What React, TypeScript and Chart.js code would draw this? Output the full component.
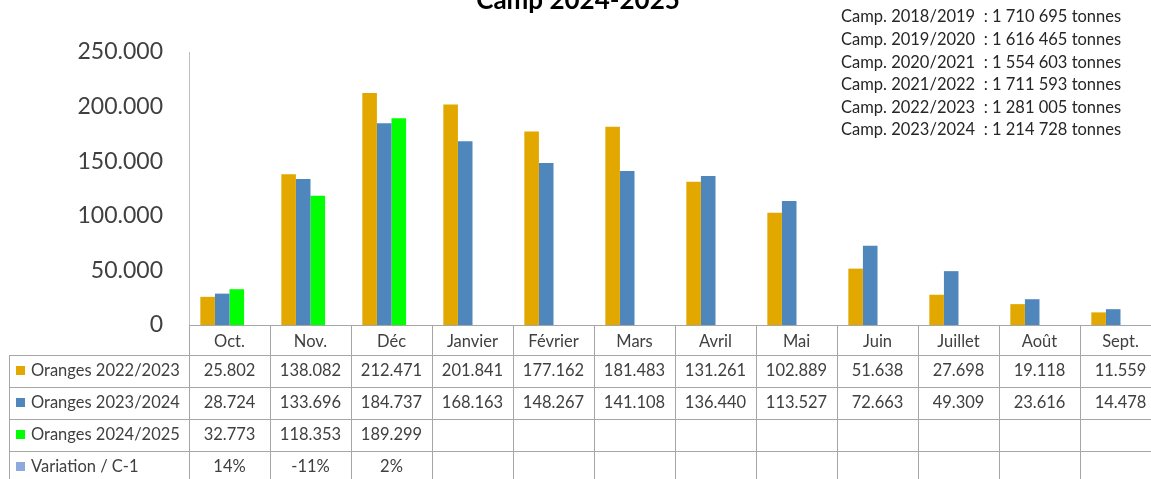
import React, { useEffect, useRef } from "react";
import { Chart, registerables } from "chart.js";

Chart.register(...registerables);

const months = ["Oct.", "Nov.", "Déc", "Janvier", "Février", "Mars", "Avril", "Mai", "Juin", "Juillet", "Août", "Sept."];
const oranges2223 = [25802, 138082, 212471, 201841, 177162, 181483, 131261, 102889, 51638, 27698, 19118, 11559];
const oranges2324 = [28724, 133696, 184737, 168163, 148267, 141108, 136440, 113527, 72663, 49309, 23616, 14478];
const oranges2425 = [32773, 118353, 189299];
const variation = [0.14, -0.11, 0.02];
const yTicks = [0, 50000, 100000, 150000, 200000, 250000];
const campaigns = ["2018/2019", "2019/2020", "2020/2021", "2021/2022", "2022/2023", "2023/2024"];
const campaignTotals = ["1 710 695", "1 616 465", "1 554 603", "1 711 593", "1 281 005", "1 214 728"];
const title = "Camp 2024-2025";

const FONT = "Lato, 'Noto Sans', sans-serif";
const TEXT = "#404040";
const GRID = "#A6A6A6";

const fmt = (v: number) => (v === 0 ? "0" : Math.round(v).toString().replace(/\B(?=(\d{3})+(?!\d))/g, "."));
const pct = (v: number) => `${Math.round(v * 100)}%`;

const series = [
  { label: "Oranges 2022/2023", data: oranges2223, color: "#E2A800", text: (v: number) => fmt(v) },
  { label: "Oranges 2023/2024", data: oranges2324, color: "#4F87BD", text: (v: number) => fmt(v) },
  { label: "Oranges 2024/2025", data: oranges2425, color: "#00FF00", text: (v: number) => fmt(v) },
  { label: "Variation / C-1", data: variation, color: "#8EA9DB", text: (v: number) => pct(v) },
];

const tablePlugin = {
  id: "dataTable",
  afterDraw(chart: any) {
    const ctx = chart.ctx as CanvasRenderingContext2D;
    const area = chart.chartArea;
    const n = months.length;
    const cw = (area.right - area.left) / n;
    const top = area.bottom;
    const headerH = 30;
    const rowH = 32;
    const tableLeft = 9;
    const bottom = top + headerH + rowH * series.length;
    ctx.save();
    ctx.strokeStyle = GRID;
    ctx.lineWidth = 1;
    ctx.beginPath();
    for (let i = 0; i <= n; i++) {
      const x = Math.round(area.left + i * cw) + 0.5;
      ctx.moveTo(x, top);
      ctx.lineTo(x, bottom);
    }
    ctx.moveTo(tableLeft + 0.5, top + headerH);
    ctx.lineTo(tableLeft + 0.5, bottom);
    for (let k = 0; k <= series.length; k++) {
      const y = Math.round(top + headerH + k * rowH) + 0.5;
      ctx.moveTo(tableLeft, y);
      ctx.lineTo(area.right, y);
    }
    ctx.stroke();

    ctx.font = `16.5px ${FONT}`;
    ctx.textBaseline = "middle";
    series.forEach((s, r) => {
      const cy = top + headerH + r * rowH + rowH / 2;
      ctx.fillStyle = s.color;
      ctx.fillRect(tableLeft + 7, cy - 5, 9, 9);
      ctx.fillStyle = TEXT;
      ctx.textAlign = "left";
      ctx.fillText(s.label, tableLeft + 22, cy);
      ctx.textAlign = "center";
      s.data.forEach((v, i) => {
        const cx = area.left + (i + 0.5) * cw;
        ctx.fillText(s.text(v), cx, cy);
      });
    });

    // campaign totals
    ctx.fillStyle = "#262626";
    ctx.textAlign = "left";
    ctx.font = `16.5px ${FONT}`;
    campaigns.forEach((c, i) => {
      ctx.fillText(`Camp. ${c}  : ${campaignTotals[i]} tonnes`, 841, 17 + i * 22.6);
    });

    // title (cropped at top)
    ctx.fillStyle = "#000000";
    ctx.font = `bold 26px ${FONT}`;
    ctx.textAlign = "center";
    ctx.textBaseline = "alphabetic";
    ctx.fillText(title, 578, 9);
    ctx.restore();
  },
};

export default function App() {
  const ref = useRef<HTMLCanvasElement>(null);
  useEffect(() => {
    if (!ref.current) return;
    const chart = new Chart(ref.current, {
      type: "bar",
      data: {
        labels: months,
        datasets: series.map((s) => ({
          label: s.label,
          data: s.data,
          backgroundColor: s.color,
          borderWidth: 0,
          categoryPercentage: 0.72,
          barPercentage: 1,
        })),
      },
      options: {
        responsive: false,
        animation: false,
        layout: { padding: { top: 52, left: 0, right: 0, bottom: 0 } },
        plugins: { legend: { display: false }, tooltip: { enabled: false }, title: { display: false } },
        scales: {
          x: {
            grid: { display: false, drawTicks: false },
            border: { display: true, color: GRID, width: 1 },
            ticks: { color: TEXT, font: { family: FONT, size: 16.5 }, padding: 7, maxRotation: 0, autoSkip: false },
            afterFit: (s: any) => {
              s.height = 154;
            },
          },
          y: {
            min: 0,
            max: 250000,
            afterBuildTicks: (s: any) => {
              s.ticks = yTicks.map((v) => ({ value: v }));
            },
            grid: { display: false, drawTicks: false },
            border: { display: true, color: "#BFBFBF", width: 1 },
            ticks: { color: TEXT, font: { family: FONT, size: 23 }, padding: 26, callback: (v: any) => fmt(Number(v)) },
            afterFit: (s: any) => {
              s.width = 189;
            },
          },
        },
      },
      plugins: [tablePlugin],
    });
    return () => chart.destroy();
  }, []);
  return (
    <div style={{ position: "fixed", left: 0, top: 0, width: 1151, height: 479, overflow: "hidden", background: "#fff" }}>
      <canvas ref={ref} width={1161} height={479} style={{ display: "block" }} />
    </div>
  );
}
